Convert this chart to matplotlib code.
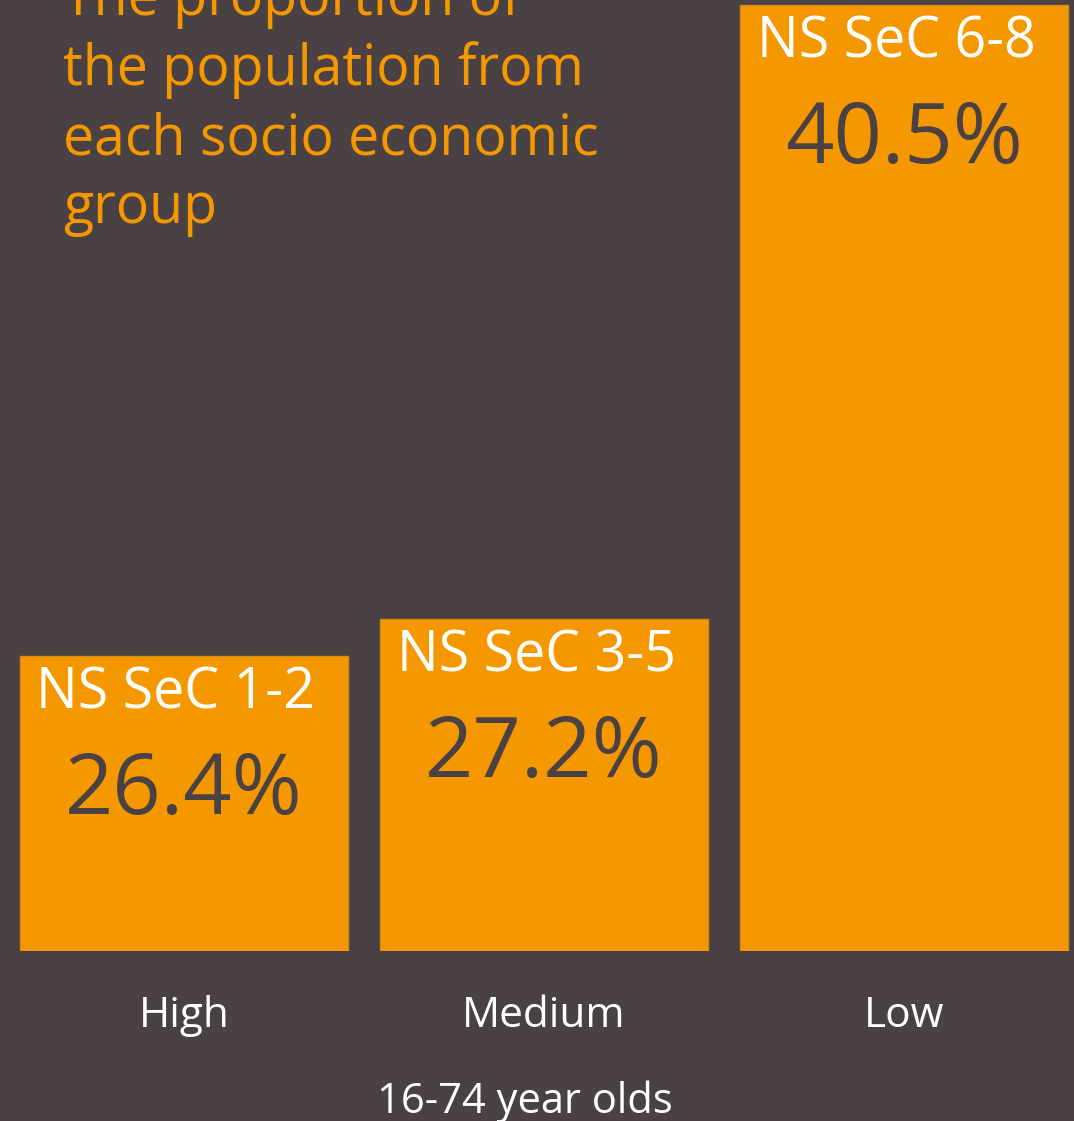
import matplotlib
matplotlib.use("Agg")
import matplotlib.pyplot as plt

categories = ["High", "Medium", "Low"]
groups = ["NS SeC 1-2", "NS SeC 3-5", "NS SeC 6-8"]
values = [26.4, 27.2, 40.5]
title_text = "The proportion of\nthe population from\neach socio economic\ngroup"
xlabel_text = "16-74 year olds"

BG = "#4a4144"
ORANGE = "#f59800"
DARK = "#4a4144"
FONT = "Open Sans"

plt.rcParams["font.family"] = [FONT, "DejaVu Sans"]

fig = plt.figure(figsize=(10.74, 11.21), dpi=100, facecolor=BG)
ax = fig.add_axes([0.0, 1 - 951 / 1121, 1.0, 951 / 1121])
ax.set_facecolor(BG)

x = list(range(len(categories)))
bars = ax.bar(x, values, width=0.911, color=ORANGE, edgecolor="#d98a10", linewidth=1.0)
ax.set_xlim(-0.511, 2.472)
ax.set_ylim(20, 40.6)

for sp in ax.spines.values():
    sp.set_visible(False)
ax.set_yticks([])
ax.set_xticks(x)
ax.set_xticklabels(categories, color="white", fontsize=30.5)
ax.tick_params(axis="x", length=0, pad=32)

for xi, v, g in zip(x, values, groups):
    ax.annotate(g, xy=(xi, v), xytext=(-8, -10), textcoords="offset pixels",
                ha="center", va="top", color="white", fontsize=40)
    ax.annotate(f"{v:.1f}%", xy=(xi, v), xytext=(0, -94), textcoords="offset pixels",
                ha="center", va="top", color=DARK, fontsize=61)

fig.text(63 / 1074, 1 + 29 / 1121, title_text, ha="left", va="top", color=ORANGE,
         fontsize=40, linespacing=1.28)
fig.text(525 / 1074, 1 - 1113 / 1121, xlabel_text, ha="center", va="baseline",
         color="white", fontsize=30)

fig.savefig("out.png", dpi=100, facecolor=BG)
